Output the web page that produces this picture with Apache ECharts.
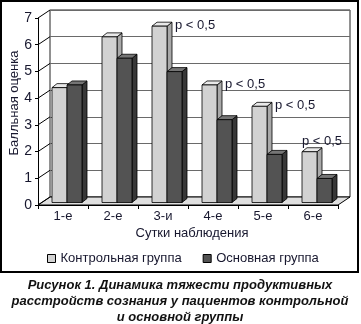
<!DOCTYPE html>
<html><head><meta charset="utf-8">
<script src="https://cdn.jsdelivr.net/npm/echarts@6/dist/echarts.min.js"></script>
<style>html,body{margin:0;padding:0;background:#fff}#c{width:361px;height:324px}</style>
</head><body><div id="c"></div>
<script>
// Days of observation and mean scores per group
const days = ['1-е', '2-е', '3-и', '4-е', '5-е', '6-е'];
const controlGroup = [4.3, 6.2, 6.6, 4.4, 3.6, 1.9];
const mainGroup = [4.4, 5.4, 4.9, 3.1, 1.8, 0.9];
const pNotes = ['', '', 'p < 0,5', 'p < 0,5', 'p < 0,5', 'p < 0,5'];
const yTicks = [0, 1, 2, 3, 4, 5, 6, 7];
const seriesNames = ['Контрольная группа', 'Основная группа'];
const yTitle = 'Балльная оценка';
const xTitle = 'Сутки наблюдения';
const captionLines = [
  'Рисунок 1. Динамика тяжести продуктивных',
  'расстройств сознания у пациентов контрольной',
  'и основной группы'
];

const FONT = '"Liberation Sans", Arial, sans-serif';
const TXT = '#17172e';
// depth of the 3D box and of the columns
const WALL_DX = 12, WALL_DY = -8;
const BAR_SHIFT_X = 4, BAR_SHIFT_Y = -2.5;
const BAR_DX = 5, BAR_DY = -4;
const BAR_W = 15;

const faces = [
  { front: '#d2d2d2', side: '#a9a9a9', top: '#e9e9e9' },
  { front: '#535353', side: '#383838', top: '#757575' }
];
const yMax = yTicks[yTicks.length - 1];

function columnRenderer(gi) {
  return function (params, api) {
    const i = api.value(0), v = api.value(1);
    const top = api.coord([i, v]);
    const base = api.coord([i, 0]);
    const x0 = top[0] - BAR_W + gi * BAR_W + BAR_SHIFT_X;
    const x1 = x0 + BAR_W;
    const yt = top[1] + BAR_SHIFT_Y;
    const yb = base[1] + BAR_SHIFT_Y;
    const f = faces[gi];
    const stroke = { stroke: '#000', lineWidth: 0.8 };
    const children = [
      { type: 'polygon', shape: { points: [[x1, yt], [x1 + BAR_DX, yt + BAR_DY], [x1 + BAR_DX, yb + BAR_DY], [x1, yb]] },
        style: Object.assign({ fill: f.side }, stroke) },
      { type: 'polygon', shape: { points: [[x0, yt], [x0 + BAR_DX, yt + BAR_DY], [x1 + BAR_DX, yt + BAR_DY], [x1, yt]] },
        style: Object.assign({ fill: f.top }, stroke) },
      { type: 'rect', shape: { x: x0, y: yt, width: BAR_W, height: yb - yt },
        style: Object.assign({ fill: f.front }, stroke) }
    ];
    const note = gi === 0 ? pNotes[i] : '';
    if (note) {
      const last = i === days.length - 1;
      children.push({
        type: 'text',
        style: {
          text: note, fill: TXT, font: '13px ' + FONT,
          x: last ? x0 + 20 : x1 + BAR_DX + 3,
          y: last ? yt - 10 : yt - 1,
          align: last ? 'center' : 'left', verticalAlign: 'middle'
        },
        z2: 10
      });
    }
    return { type: 'group', children: children };
  };
}

// floor of the box and the slanted tick lines joining the front axis to the back wall
function boxRenderer(params, api) {
  const band = api.size([1, 0])[0];
  const xL = api.coord([0, 0])[0] - band / 2;
  const xR = api.coord([days.length - 1, 0])[0] + band / 2;
  const y0 = api.coord([0, 0])[1];
  const children = [{
    type: 'polygon',
    shape: { points: [[xL, y0], [xR, y0], [xR + WALL_DX, y0 + WALL_DY], [xL + WALL_DX, y0 + WALL_DY]] },
    style: { fill: '#e0e0e0', stroke: '#000', lineWidth: 1 }
  }];
  yTicks.forEach(function (t) {
    const y = api.coord([0, t])[1];
    children.push({
      type: 'line',
      shape: { x1: xL, y1: y, x2: xL + WALL_DX, y2: y + WALL_DY },
      style: { stroke: '#000', lineWidth: 1 }
    });
  });
  return { type: 'group', children: children };
}

const chart = echarts.init(document.getElementById('c'), null, { renderer: 'canvas' });
chart.setOption({
  animation: false,
  backgroundColor: '#fff',
  textStyle: { fontFamily: FONT },
  grid: [
    { left: 38, right: 23, top: 18, bottom: 119 },
    { left: 50, right: 11, top: 10, bottom: 127, show: true, borderColor: '#222', borderWidth: 1, backgroundColor: '#fff', z: 0 }
  ],
  xAxis: [
    { type: 'category', gridIndex: 0, data: days, boundaryGap: true,
      axisLine: { lineStyle: { color: '#000', width: 1 } },
      axisTick: { show: true, length: 4, lineStyle: { color: '#000' } },
      axisLabel: { color: TXT, fontSize: 13, margin: 5, fontFamily: FONT },
      z: 5 },
    { type: 'category', gridIndex: 1, data: days, show: false }
  ],
  yAxis: [
    { type: 'value', gridIndex: 0, min: 0, max: yMax, interval: 1,
      axisLine: { show: true, lineStyle: { color: '#000', width: 1 } },
      axisTick: { show: true, length: 3, lineStyle: { color: '#000' } },
      axisLabel: { color: TXT, fontSize: 14, margin: 6, fontFamily: FONT },
      splitLine: { show: false }, z: 5 },
    { type: 'value', gridIndex: 1, min: 0, max: yMax, interval: 1,
      axisLine: { show: false }, axisTick: { show: false }, axisLabel: { show: false },
      splitLine: { show: true, lineStyle: { color: '#6a6a6a', width: 1 } } }
  ],
  legend: {
    left: 47, top: 252, padding: 0, itemWidth: 8, itemHeight: 8, itemGap: 21,
    textStyle: { color: TXT, fontSize: 13, fontFamily: FONT },
    data: seriesNames.map(function (n, gi) {
      return { name: n, icon: 'rect', itemStyle: { color: faces[gi].front, borderColor: '#000', borderWidth: 1 } };
    })
  },
  series: [
    { type: 'custom', name: 'box', xAxisIndex: 0, yAxisIndex: 0, data: [[0, 0]],
      renderItem: boxRenderer, z: 1, silent: true },
    { type: 'custom', name: seriesNames[0], xAxisIndex: 0, yAxisIndex: 0,
      itemStyle: { color: faces[0].front },
      data: controlGroup.map(function (v, i) { return [i, v]; }),
      renderItem: columnRenderer(0), z: 3 },
    { type: 'custom', name: seriesNames[1], xAxisIndex: 0, yAxisIndex: 0,
      itemStyle: { color: faces[1].front },
      data: mainGroup.map(function (v, i) { return [i, v]; }),
      renderItem: columnRenderer(1), z: 4 }
  ],
  graphic: [
    { type: 'rect', shape: { x: 1, y: 1, width: 357, height: 271 },
      style: { fill: 'none', stroke: '#000', lineWidth: 2 }, z: 100 },
    { type: 'text', x: 14, y: 103, rotation: Math.PI / 2,
      style: { text: yTitle, fill: TXT, font: '13px ' + FONT, align: 'center', verticalAlign: 'middle' } },
    { type: 'text', x: 192, y: 233,
      style: { text: xTitle, fill: TXT, font: '13px ' + FONT, align: 'center', verticalAlign: 'middle' } },
    { type: 'text', x: 180, y: 277,
      style: { text: captionLines.join('\n'), fill: '#111', font: 'italic bold 13px ' + FONT,
        align: 'center', verticalAlign: 'top', lineHeight: 16 } }
  ]
});
</script>
</body></html>
